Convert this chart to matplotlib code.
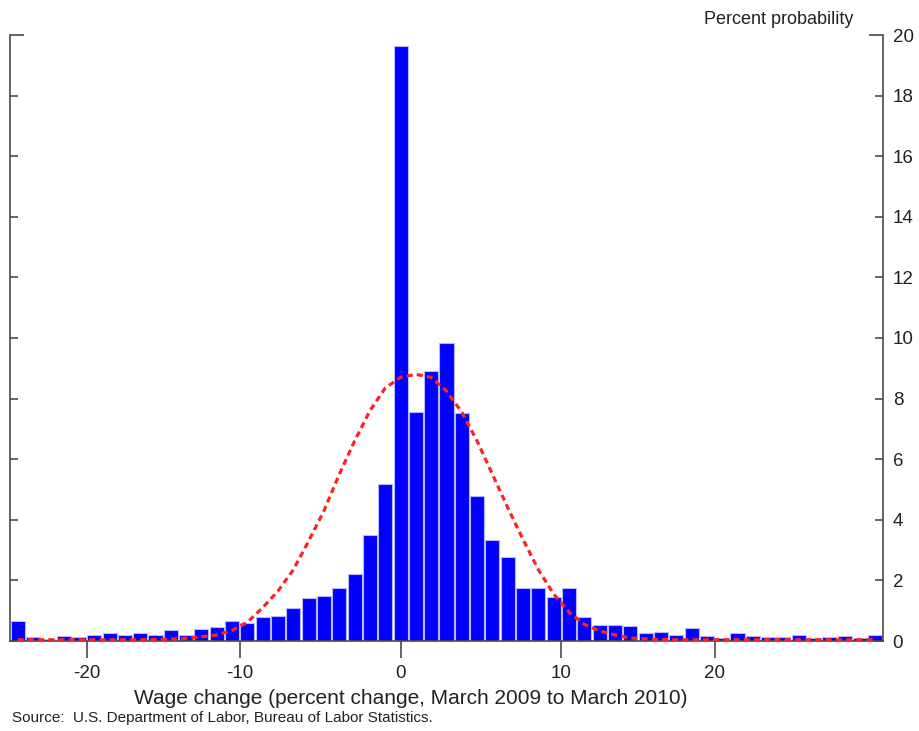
import matplotlib
matplotlib.use("Agg")
import matplotlib.pyplot as plt

plt.rcParams['font.family'] = ['Liberation Sans', 'DejaVu Sans']

# Bins: 25 negative one-percent bins (-25..-1), a zero-change bin, 31 positive bins (0..30]
neg_bins = list(range(-25, 0))          # lower edges of negative bins
zero_bin = [0]
pos_bins = list(range(0, 31))           # lower edges of positive bins (k, k+1]

# Histogram, percent probability
neg_values = [0.65, 0.14, 0.08, 0.16, 0.14, 0.20, 0.26, 0.20, 0.26, 0.20,
              0.35, 0.20, 0.39, 0.45, 0.65, 0.60, 0.79, 0.84, 1.08, 1.43,
              1.48, 1.76, 2.22, 3.50, 5.17]
zero_value = [19.65]
pos_values = [7.57, 8.92, 9.83, 7.53, 4.79, 3.33, 2.78, 1.76, 1.74, 1.44,
              1.76, 0.78, 0.53, 0.53, 0.49, 0.25, 0.31, 0.20, 0.44, 0.16,
              0.09, 0.25, 0.16, 0.14, 0.14, 0.20, 0.09, 0.14, 0.16, 0.09,
              0.20]

# Normal-distribution overlay, read at each bin
curve_values = [0.04, 0.04, 0.04, 0.04, 0.04, 0.04, 0.04, 0.04, 0.04, 0.05,
                0.06, 0.09, 0.14, 0.20, 0.35, 0.62, 1.10, 1.65, 2.35, 3.30,
                4.30, 5.50, 6.60, 7.60, 8.35, 8.70, 8.80, 8.70, 8.25, 7.55,
                6.60, 5.50, 4.40, 3.35, 2.35, 1.55, 0.95, 0.55, 0.33, 0.20,
                0.10, 0.07, 0.05, 0.04, 0.04, 0.04, 0.04, 0.04, 0.04, 0.04,
                0.04, 0.04, 0.04, 0.04, 0.04, 0.04, 0.04]

xtick_values = [-20, -10, 0, 10, 20]
ytick_values = [0, 2, 4, 6, 8, 10, 12, 14, 16, 18, 20]

values = neg_values + zero_value + pos_values
n = len(values)
centers = [i + 0.5 for i in range(n)]


def axis_pos(w):
    if w < 0:
        return neg_bins.index(w)
    if w == 0:
        return len(neg_bins) + 0.5
    return len(neg_bins) + 1 + pos_bins.index(w)


text_c = '#222222'
spine_c = '#4a4a4a'

fig = plt.figure(figsize=(9.2, 7.31), dpi=100)
ax = fig.add_axes([10 / 920, 1 - 641 / 731, 873 / 920, 606 / 731])

ax.bar(centers, values, width=0.92, color='#0000ff', edgecolor='#b8b8ff',
       linewidth=0.8, zorder=2)
ax.plot(centers, curve_values, color='#ff2222', linewidth=2.3,
        linestyle=(0, (1.9, 1.3)), zorder=3, solid_capstyle='butt')

ax.set_xlim(0, n)
ax.set_ylim(0, 20)

ax.spines['top'].set_visible(False)
for s in ['left', 'right', 'bottom']:
    ax.spines[s].set_color(spine_c)
    ax.spines[s].set_linewidth(1.2)

ax.set_xticks([axis_pos(w) for w in xtick_values])
ax.set_xticklabels([str(w) for w in xtick_values])
ax.tick_params(axis='x', direction='out', length=12, width=1.2,
               color=spine_c, labelsize=13.5, labelcolor=text_c, pad=5)

ax.set_yticks(ytick_values)
ax.set_yticklabels([str(v) for v in ytick_values])
ax.yaxis.tick_right()
ax.tick_params(axis='y', which='both', left=True, right=True,
               labelleft=False, labelright=True, direction='in',
               length=6, width=1.2, color=spine_c, labelsize=13.5,
               labelcolor=text_c, pad=7)
top_tick = ax.yaxis.get_major_ticks()[-1]
top_tick.tick1line.set_markersize(10)
top_tick.tick2line.set_markersize(10)

fig.text(411 / 920, 1 - 698 / 731,
         'Wage change (percent change, March 2009 to March 2010)',
         ha='center', va='center', fontsize=15, color=text_c)
fig.text(853 / 920, 1 - 19 / 731, 'Percent probability',
         ha='right', va='center', fontsize=13, color=text_c)
fig.text(12 / 920, 1 - 718 / 731,
         'Source:  U.S. Department of Labor, Bureau of Labor Statistics.',
         ha='left', va='center', fontsize=11, color=text_c)

fig.savefig('out.png', dpi=100)
